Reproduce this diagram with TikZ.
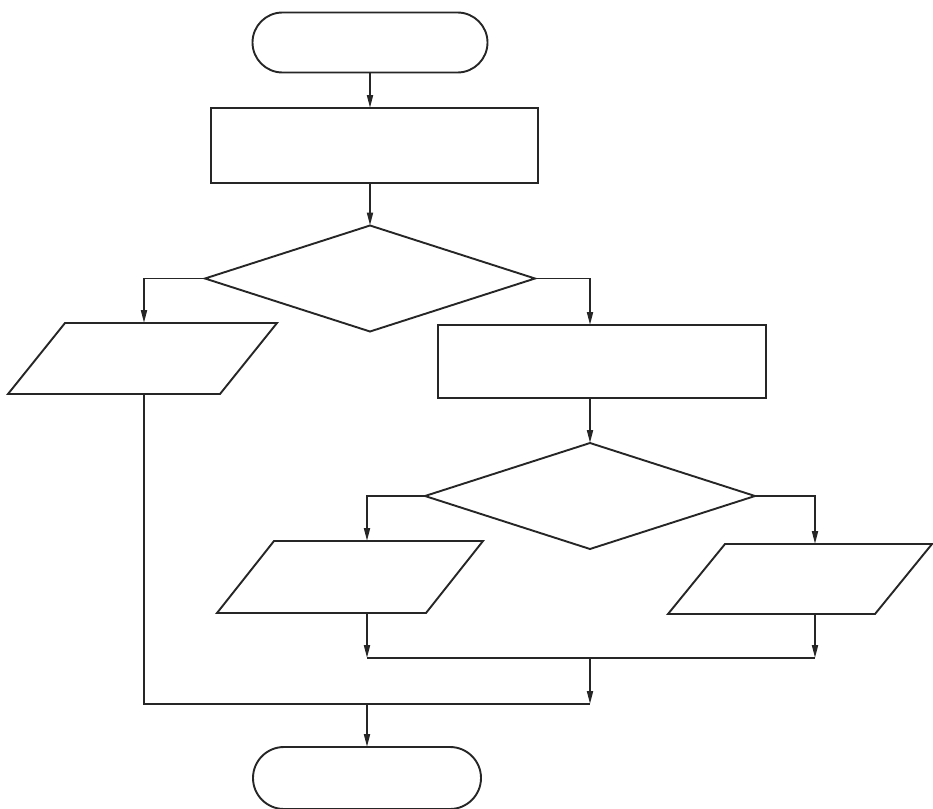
\documentclass[tikz,border=0pt]{standalone}
\usetikzlibrary{arrows.meta,shapes.geometric,calc}
\begin{document}
\begin{tikzpicture}[x=1pt,y=-1pt,
  line/.style={draw=black!85,line width=1.9pt,line join=miter},
  arr/.style={line,-{Triangle[length=13pt,width=6pt]}},
  term/.style={line,rectangle,rounded corners=30pt,inner sep=0pt,outer sep=0pt},
  box/.style={line,rectangle,inner sep=0pt,outer sep=0pt},
  dec/.style={line,diamond,inner sep=0pt,outer sep=0pt,minimum width=330pt,minimum height=106pt},
  io/.style={rectangle,inner sep=0pt,outer sep=0pt,minimum height=71pt}]
\useasboundingbox (0,0) rectangle (933,808);
% columns of the connectors
\coordinate (colL) at (144,0);
\coordinate (colM) at (367,0);
\coordinate (colC) at (590,0);
\coordinate (colR) at (815,0);
% nodes
\node[term,minimum width=235pt,minimum height=60pt] (start) at (370,42.5) {};
\node[box,minimum width=327pt,minimum height=75pt] (r1) at (374.5,145.5) {};
\node[dec] (d1) at (370,278.5) {};
\node[io,minimum width=269pt] (p1) at (142.5,358.5) {};
\node[box,minimum width=328pt,minimum height=73pt] (r2) at (602,361.5) {};
\node[dec] (d2) at (590,496) {};
\node[io,minimum width=266pt,minimum height=72pt] (p2) at (350,577) {};
\node[io,minimum width=264pt,minimum height=70pt] (p3) at (800,579) {};
\node[term,minimum width=228pt,minimum height=62pt,rounded corners=31pt] (end) at (367,778) {};
% parallelograms
\foreach \n in {p1,p2,p3}
  \draw[line] ($(\n.north west)+(57,0)$) -- (\n.north east)
    -- ($(\n.south east)+(-57,0)$) -- (\n.south west) -- cycle;
% merge points
\coordinate (m1L) at (367,658);
\coordinate (m1C) at (590,658);
\coordinate (m1R) at (815,658);
\coordinate (m2L) at (144,704);
\coordinate (m2M) at (367,704);
\coordinate (m2C) at (590,704);
% connectors
\draw[arr] (start.south) -- (start.south |- r1.north);
\draw[arr] (d1.north |- r1.south) -- (d1.north);
\draw[arr] (d1.west) -| (colL |- p1.north);
\draw[arr] (d1.east) -| (colC |- r2.north);
\draw[arr] (colC |- r2.south) -- (d2.north);
\draw[arr] (d2.west) -| (colM |- p2.north);
\draw[arr] (d2.east) -| (colR |- p3.north);
\draw[arr] (colM |- p2.south) -- (m1L);
\draw[arr] (colR |- p3.south) -- (m1R);
\draw[line] (m1L) -- (m1R);
\draw[line] (colL |- p1.south) -- (m2L) -- (m2C);
\draw[arr] (m1C) -- (m2C);
\draw[arr] (m2M) -- (end.north);
\end{tikzpicture}
\end{document}
